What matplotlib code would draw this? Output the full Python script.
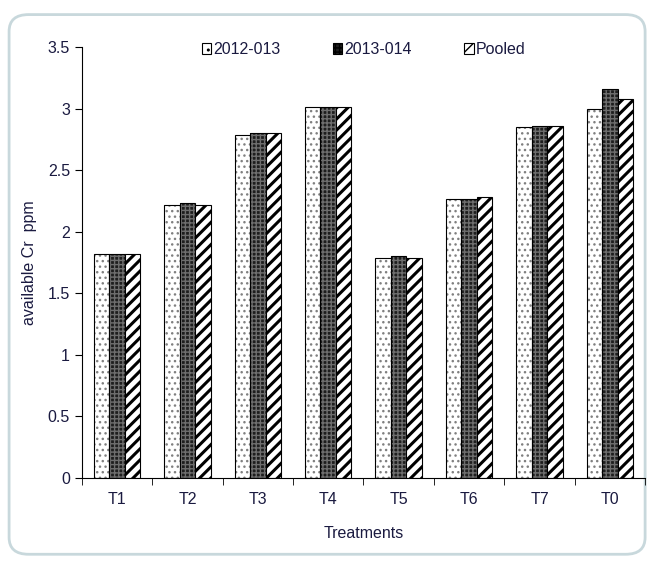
import matplotlib.pyplot as plt
import numpy as np
from matplotlib.patches import FancyBboxPatch, Rectangle

plt.rcParams['font.family'] = ['Liberation Sans', 'DejaVu Sans']
plt.rcParams['hatch.linewidth'] = 1.0

treatments = ['T1', 'T2', 'T3', 'T4', 'T5', 'T6', 'T7', 'T0']
y2012 = [1.82, 2.22, 2.79, 3.01, 1.79, 2.27, 2.85, 3.00]
y2013 = [1.82, 2.23, 2.80, 3.01, 1.80, 2.27, 2.86, 3.16]
pooled = [1.82, 2.22, 2.80, 3.01, 1.79, 2.28, 2.86, 3.08]
labels = ['2012-013', '2013-014', 'Pooled']

fig = plt.figure(figsize=(6.49, 5.61), dpi=100)

# outer rounded frame like the original chart object
frame = FancyBboxPatch((0.014, 0.012), 0.98, 0.962, boxstyle="round,pad=0,rounding_size=0.03",
                       transform=fig.transFigure, facecolor='white', edgecolor='#c8d8dc',
                       linewidth=2, zorder=-10)
fig.patches.append(frame)

ax = fig.add_axes([0.126, 0.148, 0.868, 0.768])
ax.patch.set_alpha(0)

x = np.arange(len(treatments))
w = 0.22
fs = 11.5
tc = '#1a1a40'

# 2012-013: white with light grey dots
plt.rcParams['hatch.linewidth'] = 1.0
ax.bar(x - w, y2012, w, color='white', edgecolor='#808080', hatch='...', linewidth=0)
ax.bar(x - w, y2012, w, fill=False, edgecolor='black', linewidth=0.8)
# 2013-014: dense dark grid
ax.bar(x, y2013, w, color='#1e1e1e', edgecolor='#6e6e6e', hatch='++++', linewidth=0)
ax.bar(x, y2013, w, fill=False, edgecolor='black', linewidth=0.8)
# pooled: bold diagonal stripes
plt.rcParams['hatch.linewidth'] = 2.2
ax.bar(x + w, pooled, w, color='white', edgecolor='black', hatch='///', linewidth=0.8)

ax.set_xlim(-0.5, len(treatments) - 0.5)
ax.set_ylim(0, 3.5)
ax.set_yticks(np.arange(0, 3.51, 0.5))
ax.set_yticklabels(['0', '0.5', '1', '1.5', '2', '2.5', '3', '3.5'])
ax.set_xticks(x)
ax.set_xticklabels(treatments)
ax.set_xticks(np.arange(-0.5, len(treatments), 1), minor=True)
ax.tick_params(axis='x', which='major', length=0, pad=10)
ax.tick_params(axis='x', which='minor', length=5, direction='out')
ax.tick_params(axis='y', length=5, direction='out')
ax.tick_params(labelsize=fs, colors=tc)
ax.tick_params(axis='both', color='black')

for s in ['top', 'right']:
    ax.spines[s].set_visible(False)

ax.set_xlabel('Treatments', fontsize=fs, color=tc, labelpad=14)
ax.set_ylabel('available Cr  ppm', fontsize=fs, color=tc, labelpad=8)

plt.rcParams['hatch.linewidth'] = 1.0
h1 = Rectangle((0, 0), 1, 1, facecolor='white', edgecolor='black', hatch='..', linewidth=0.8)
h2 = Rectangle((0, 0), 1, 1, facecolor='#1e1e1e', edgecolor='black', hatch='++++', linewidth=0.8)
h3 = Rectangle((0, 0), 1, 1, facecolor='white', edgecolor='black', hatch='//', linewidth=0.8)
leg = ax.legend([h1, h2, h3], labels, loc='upper center', bbox_to_anchor=(0.5, 1.045), ncol=3,
                frameon=False, fontsize=fs, handlelength=0.6, handleheight=0.6,
                handletextpad=0.1, columnspacing=3.3)
for t in leg.get_texts():
    t.set_color(tc)

fig.savefig('out.png', dpi=100)
